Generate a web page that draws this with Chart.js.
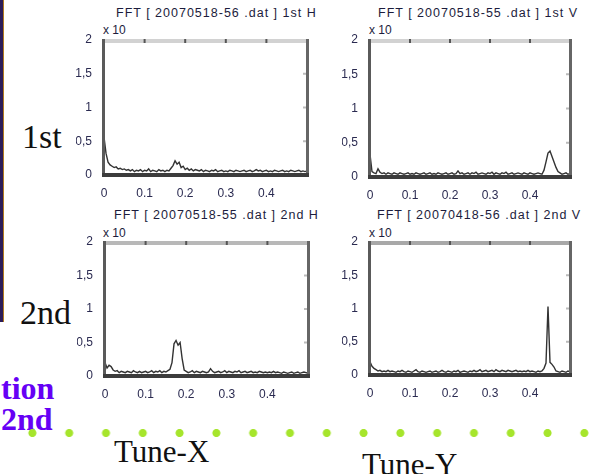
<!DOCTYPE html>
<html>
<head>
<meta charset="utf-8">
<script src="https://cdn.jsdelivr.net/npm/chart.js@4.4.1/dist/chart.umd.min.js"></script>
<style>
  html, body { margin: 0; padding: 0; background: #fff; }
  body { width: 593px; height: 474px; position: relative; overflow: hidden; }
  canvas { position: absolute; }
  .title { position: absolute; font: 12.5px "Liberation Sans", Arial, sans-serif; color: #1c1c3c; letter-spacing: 1px; white-space: nowrap; }
  .exp { position: absolute; font: 12px "Liberation Sans", Arial, sans-serif; color: #1c1c3c; }
  .serif { position: absolute; font-family: "Liberation Serif", "Times New Roman", serif; color: #111; white-space: nowrap; }
  .purple { position: absolute; font: bold 32px "Liberation Serif", serif; color: #6600f5; white-space: nowrap; }
  #strip { position: absolute; left: 0; top: 0; width: 3px; height: 322px; background: #2b1c58; border-right: 1px solid #b07a20; }
  #dots { position: absolute; left: 14px; top: 428px; width: 600px; height: 10px;
          background: radial-gradient(circle, #a6e52c 3.6px, transparent 4.4px) 0 0 / 36.8px 10px repeat-x; }
</style>
</head>
<body>
<div id="strip"></div>

<div class="title" style="left:116px; top:6px;">FFT [ 20070518-56 .dat ] 1st H</div>
<div class="title" style="left:378px; top:6px;">FFT [ 20070518-55 .dat ] 1st V</div>
<div class="title" style="left:114px; top:208px;">FFT [ 20070518-55 .dat ] 2nd H</div>
<div class="title" style="left:377px; top:208px;">FFT [ 20070418-56 .dat ] 2nd V</div>

<div class="exp" style="left:103px; top:23px;">x 10</div>
<div class="exp" style="left:369px; top:23px;">x 10</div>
<div class="exp" style="left:103px; top:226px;">x 10</div>
<div class="exp" style="left:369px; top:226px;">x 10</div>

<canvas id="c1" width="239" height="169" style="left:76px; top:28px;"></canvas>
<canvas id="c2" width="236" height="171" style="left:342px; top:28px;"></canvas>
<canvas id="c3" width="239" height="168" style="left:77px; top:230px;"></canvas>
<canvas id="c4" width="236" height="167" style="left:342px; top:230px;"></canvas>

<div class="serif" style="left:22px; top:118px; font-size:34px;">1st</div>
<div class="serif" style="left:20px; top:294px; font-size:34px;">2nd</div>
<div class="purple" style="left:1px; top:370px;">tion</div>
<div class="purple" style="left:1px; top:401px;">2nd</div>
<div id="dots"></div>
<div class="serif" style="left:114px; top:434px; font-size:31px;">Tune-X</div>
<div class="serif" style="left:362px; top:447px; font-size:31px;">Tune-Y</div>

<script>
// tune axis (fraction of revolution frequency)
const tune = [
  0, 0.005, 0.01, 0.015, 0.02, 0.025, 0.03, 0.035, 0.04, 0.045,
  0.05, 0.055, 0.06, 0.065, 0.07, 0.075, 0.08, 0.085, 0.09, 0.095,
  0.1, 0.105, 0.11, 0.115, 0.12, 0.125, 0.13, 0.135, 0.14, 0.145,
  0.15, 0.155, 0.16, 0.165, 0.17, 0.175, 0.18, 0.185, 0.19, 0.195,
  0.2, 0.205, 0.21, 0.215, 0.22, 0.225, 0.23, 0.235, 0.24, 0.245,
  0.25, 0.255, 0.26, 0.265, 0.27, 0.275, 0.28, 0.285, 0.29, 0.295,
  0.3, 0.305, 0.31, 0.315, 0.32, 0.325, 0.33, 0.335, 0.34, 0.345,
  0.35, 0.355, 0.36, 0.365, 0.37, 0.375, 0.38, 0.385, 0.39, 0.395,
  0.4, 0.405, 0.41, 0.415, 0.42, 0.425, 0.43, 0.435, 0.44, 0.445,
  0.45, 0.455, 0.46, 0.465, 0.47, 0.475, 0.48, 0.485, 0.49, 0.495, 0.5
];

// FFT amplitude (x 10^n)
const fft1stH = [
  0.56, 0.32, 0.19, 0.15, 0.13, 0.11, 0.12, 0.09, 0.1, 0.08,
  0.09, 0.07, 0.08, 0.06, 0.08, 0.05, 0.07, 0.06, 0.08, 0.05,
  0.07, 0.06, 0.09, 0.05, 0.07, 0.06, 0.05, 0.08, 0.06, 0.07,
  0.05, 0.07, 0.06, 0.1, 0.14, 0.21, 0.16, 0.19, 0.11, 0.13,
  0.08, 0.1, 0.07, 0.09, 0.06, 0.08, 0.07, 0.06, 0.08, 0.05,
  0.07, 0.06, 0.05, 0.07, 0.06, 0.08, 0.05, 0.06, 0.07, 0.05,
  0.06, 0.05, 0.07, 0.06, 0.05, 0.07, 0.06, 0.05, 0.06, 0.07,
  0.05, 0.06, 0.07, 0.05, 0.06, 0.08, 0.06, 0.07, 0.05, 0.06,
  0.07, 0.05, 0.06, 0.05, 0.07, 0.06, 0.05, 0.06, 0.07, 0.05,
  0.06, 0.05, 0.07, 0.06, 0.05, 0.06, 0.07, 0.05, 0.06, 0.05, 0.06
];
const fft1stV = [
  0.33, 0.08, 0.06, 0.05, 0.12, 0.07, 0.05, 0.06, 0.04, 0.06,
  0.05, 0.04, 0.06, 0.05, 0.04, 0.06, 0.05, 0.04, 0.05, 0.06,
  0.04, 0.05, 0.04, 0.06, 0.05, 0.04, 0.05, 0.06, 0.04, 0.05,
  0.06, 0.04, 0.05, 0.04, 0.06, 0.05, 0.04, 0.05, 0.06, 0.04,
  0.05, 0.06, 0.04, 0.05, 0.09, 0.05, 0.06, 0.04, 0.05, 0.06,
  0.04, 0.06, 0.05, 0.07, 0.04, 0.05, 0.06, 0.05, 0.04, 0.06,
  0.05, 0.07, 0.04, 0.06, 0.05, 0.04, 0.06, 0.05, 0.07, 0.04,
  0.05, 0.06, 0.04, 0.05, 0.06, 0.05, 0.04, 0.06, 0.05, 0.04,
  0.06, 0.05, 0.04, 0.05, 0.06, 0.05, 0.04, 0.1, 0.22, 0.35,
  0.38, 0.3, 0.22, 0.14, 0.08, 0.06, 0.04, 0.05, 0.06, 0.04, 0.05
];
const fft2ndH = [
  0.2, 0.12, 0.16, 0.14, 0.09, 0.07, 0.08, 0.05, 0.07, 0.06,
  0.05, 0.07, 0.06, 0.05, 0.08, 0.06, 0.05, 0.07, 0.05, 0.06,
  0.07, 0.05, 0.06, 0.08, 0.05, 0.07, 0.06, 0.08, 0.05, 0.07,
  0.06, 0.08, 0.1, 0.2, 0.48, 0.53, 0.46, 0.5, 0.26, 0.09,
  0.07, 0.05, 0.06, 0.08, 0.05, 0.07, 0.06, 0.05, 0.07, 0.06,
  0.05, 0.06, 0.11, 0.07, 0.05, 0.06, 0.07, 0.05, 0.06, 0.08,
  0.05, 0.07, 0.06, 0.05, 0.07, 0.06, 0.08, 0.05, 0.06, 0.07,
  0.05, 0.06, 0.07, 0.05, 0.06, 0.05, 0.07, 0.06, 0.05, 0.06,
  0.05, 0.06, 0.05, 0.07, 0.05, 0.06, 0.05, 0.04, 0.06, 0.05,
  0.04, 0.05, 0.06, 0.04, 0.05, 0.06, 0.04, 0.05, 0.06, 0.05, 0.04
];
const fft2ndV = [
  0.2, 0.13, 0.1, 0.08, 0.06, 0.07, 0.05, 0.06, 0.05, 0.07,
  0.05, 0.06, 0.05, 0.04, 0.06, 0.05, 0.07, 0.05, 0.04, 0.06,
  0.05, 0.04, 0.06, 0.08, 0.05, 0.04, 0.06, 0.05, 0.04, 0.05,
  0.06, 0.04, 0.05, 0.06, 0.04, 0.05, 0.07, 0.05, 0.04, 0.06,
  0.05, 0.04, 0.06, 0.05, 0.07, 0.04, 0.05, 0.06, 0.05, 0.04,
  0.06, 0.05, 0.07, 0.05, 0.06, 0.08, 0.05, 0.06, 0.07, 0.05,
  0.06, 0.07, 0.05, 0.08, 0.06, 0.05, 0.07, 0.06, 0.05, 0.07,
  0.06, 0.05, 0.06, 0.07, 0.05, 0.06, 0.05, 0.06, 0.05, 0.07,
  0.05, 0.06, 0.05, 0.04, 0.06, 0.05, 0.06, 0.1, 0.18, 1.03,
  0.19, 0.16, 0.12, 0.06, 0.05, 0.04, 0.06, 0.05, 0.04, 0.06, 0.05
];

// axis ticks and labels
const xTicks = [0, 0.1, 0.2, 0.3, 0.4, 0.5];
const xLabelsTop = ['0', '0,1', '0,2', '0,3', '0,4', ''];
const xLabelsBottom = ['0', '0.1', '0.2', '0.3', '0.4', ''];
const yTicks = [0, 0.5, 1, 1.5, 2];
const yLabels = ['0', '0,5', '1', '1,5', '2'];

// matlab-ish box around the plot area
function framePlugin(topBand) {
  return {
    id: 'frame',
    afterDatasetsDraw(chart) {
      const { ctx, chartArea: a, scales } = chart;
      ctx.save();
      ctx.fillStyle = topBand;
      ctx.fillRect(a.left, a.top - 1, a.right - a.left, 4);
      ctx.fillStyle = '#555';
      [0.1, 0.2, 0.3, 0.4].forEach(v => {
        const x = scales.x.getPixelForValue(v);
        ctx.fillRect(x - 1, a.top - 1, 2, 4);
      });
      ctx.fillStyle = '#bbb';
      [0.5, 1, 1.5].forEach(v => {
        const y = scales.y.getPixelForValue(v);
        ctx.fillRect(a.right - 4, y - 1, 3, 2);
      });
      ctx.fillStyle = '#5a5a5a';
      ctx.fillRect(a.left - 2, a.top - 1, 3, a.bottom - a.top + 2);
      ctx.fillStyle = '#666';
      ctx.fillRect(a.right - 1, a.top - 1, 3, a.bottom - a.top + 3);
      ctx.fillStyle = '#3c3c3c';
      ctx.fillRect(a.left - 2, a.bottom - 2, a.right - a.left + 4, 4);
      ctx.restore();
    }
  };
}

function makePlot(id, amp, xLabels, topBand) {
  const tickFont = { family: 'Liberation Sans, Arial, sans-serif', size: 12 };
  return new Chart(document.getElementById(id), {
    type: 'line',
    data: {
      datasets: [{
        data: tune.map((t, i) => ({ x: t, y: amp[i] })),
        borderColor: '#333',
        borderWidth: 1.4,
        pointRadius: 0,
        tension: 0
      }]
    },
    options: {
      responsive: false,
      animation: false,
      layout: { padding: { top: 12, right: 8, left: 0, bottom: 0 } },
      plugins: { legend: { display: false }, tooltip: { enabled: false } },
      scales: {
        x: {
          type: 'linear', min: 0, max: 0.5,
          afterBuildTicks: axis => { axis.ticks = xTicks.map(v => ({ value: v })); },
          afterFit: axis => { axis.height = 22; },
          grid: { display: false },
          border: { display: false },
          ticks: {
            autoSkip: false, maxRotation: 0, padding: 3,
            color: '#2a2a50', font: tickFont,
            callback: (v, i) => xLabels[i]
          }
        },
        y: {
          type: 'linear', min: 0, max: 2,
          afterBuildTicks: axis => { axis.ticks = yTicks.map(v => ({ value: v })); },
          afterFit: axis => { axis.width = 28; },
          grid: { display: false },
          border: { display: false },
          ticks: {
            autoSkip: false, padding: 4,
            color: '#2a2a50', font: tickFont,
            callback: (v, i) => yLabels[i]
          }
        }
      }
    },
    plugins: [framePlugin(topBand)]
  });
}

makePlot('c1', fft1stH, xLabelsTop, '#d2d2d2');
makePlot('c2', fft1stV, xLabelsTop, '#d2d2d2');
makePlot('c3', fft2ndH, xLabelsBottom, '#b8b8b8');
makePlot('c4', fft2ndV, xLabelsBottom, '#a8a8a8');
</script>
</body>
</html>
